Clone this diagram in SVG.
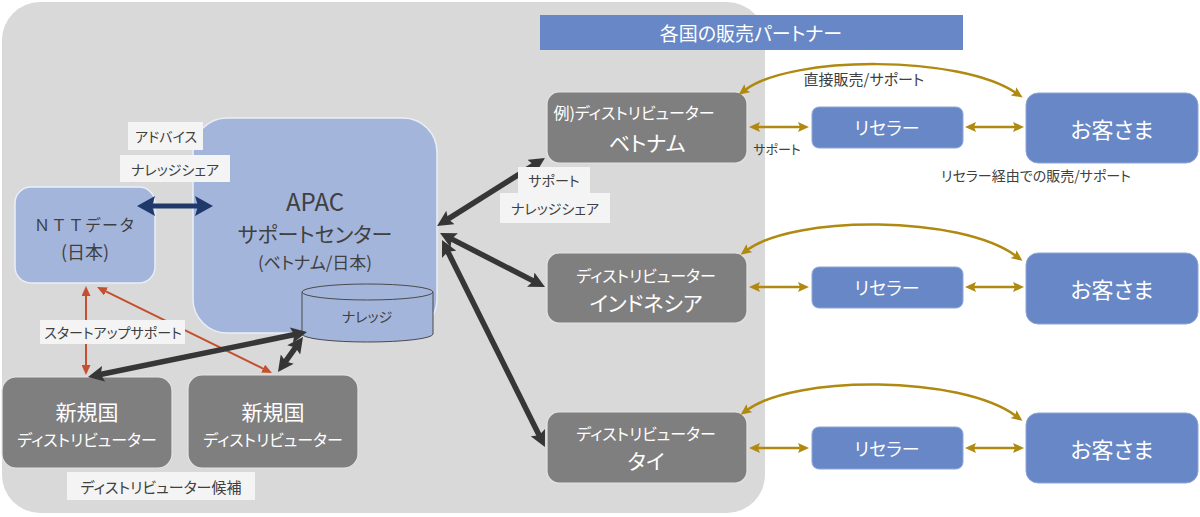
<svg xmlns="http://www.w3.org/2000/svg" width="1200" height="517" viewBox="0 0 1200 517">
<style>
text{font-family:"Noto Sans CJK JP","Liberation Sans",sans-serif;font-feature-settings:"palt";dominant-baseline:central;text-anchor:middle}
.dk{fill:#404040}
.wt{fill:#ffffff}
.lb{fill:#f4f4f4}
.lt{fill:#a4b5dc;stroke:#e9eef7;stroke-width:1.5}
.gr{fill:#7f7f7f;stroke:#e4e4e4;stroke-width:1.2}
.bl{fill:#6787c6;stroke:#8fa6d6;stroke-width:1}
.blk{stroke:#363636;stroke-width:5.5;fill:none;marker-start:url(#hb);marker-end:url(#hb)}
.nv{stroke:#1f3a6a;stroke-width:5;fill:none;marker-start:url(#hn);marker-end:url(#hn)}
.rd{stroke:#c4502f;stroke-width:2;fill:none;marker-start:url(#hr);marker-end:url(#hr)}
.gd{stroke:#b08a10;stroke-width:2.5;fill:none;marker-start:url(#hg);marker-end:url(#hg)}
</style>
<defs>
<marker id="hb" markerUnits="userSpaceOnUse" viewBox="0 0 16 16" markerWidth="16" markerHeight="16" refX="6" refY="8" orient="auto-start-reverse"><path d="M0,0 L16,8 L0,16 L3,8 z" fill="#363636"/></marker>
<marker id="hn" markerUnits="userSpaceOnUse" viewBox="0 0 18 20" markerWidth="18" markerHeight="20" refX="6" refY="10" orient="auto-start-reverse"><path d="M0,0 L18,10 L0,20 L3,10 z" fill="#1f3a6a"/></marker>
<marker id="hr" markerUnits="userSpaceOnUse" viewBox="0 0 10 9" markerWidth="10" markerHeight="9" refX="3" refY="4.5" orient="auto-start-reverse"><path d="M0,0 L10,4.5 L0,9 z" fill="#c4502f"/></marker>
<marker id="hg" markerUnits="userSpaceOnUse" viewBox="0 0 11 10" markerWidth="11" markerHeight="10" refX="3" refY="5" orient="auto-start-reverse"><path d="M0,0 L11,5 L0,10 L2,5 z" fill="#b08a10"/></marker>
</defs>
<rect width="1200" height="517" fill="#ffffff"/>
<rect id="region" x="2" y="2" width="763" height="511" rx="38" fill="#d9d9d9"/>
<g id="title"><rect x="540" y="15" width="423" height="35" fill="#6787c6"/><text x="751" y="32" class="wt" font-size="19">各国の販売パートナー</text></g>

<g id="ntt"><rect class="lt" x="15" y="187" width="140" height="96" rx="16"/><text x="85" y="224" class="dk" font-size="16" style="font-feature-settings:normal" letter-spacing="1">ＮＴＴデータ</text><text x="85" y="251" class="dk" font-size="18">(日本)</text></g>
<g id="apac"><rect class="lt" x="193" y="118" width="244" height="215" rx="34"/><text x="315" y="200" class="dk" font-size="24">APAC</text><text x="315" y="233" class="dk" font-size="21">サポートセンター</text><text x="315" y="261" class="dk" font-size="17">(ベトナム/日本)</text></g>
<g id="knowledge"><path d="M302,292 L302,334 A65.5,8 0 0 0 433,334 L433,292" fill="#a4b5dc" stroke="#4a4a4a" stroke-width="1"/><ellipse cx="367.5" cy="292" rx="65.5" ry="8" fill="#a4b5dc" stroke="#4a4a4a" stroke-width="1"/><text x="367" y="316" class="dk" font-size="14">ナレッジ</text></g>
<g id="new1"><rect class="gr" x="2" y="377" width="170" height="91" rx="14"/><text x="87" y="411" class="wt" font-size="21">新規国</text><text x="87" y="439" class="wt" font-size="16">ディストリビューター</text></g>
<g id="new2"><rect class="gr" x="188" y="375" width="170" height="93" rx="14"/><text x="273" y="411" class="wt" font-size="21">新規国</text><text x="273" y="439" class="wt" font-size="16">ディストリビューター</text></g>
<g id="vietnam"><rect class="gr" x="547" y="92" width="200" height="71" rx="12"/><text x="634" y="112" class="wt" font-size="16">例)ディストリビューター</text><text x="647" y="142" class="wt" font-size="21">ベトナム</text></g>
<g id="indonesia"><rect class="gr" x="547" y="253" width="200" height="70" rx="12"/><text x="646" y="275" class="wt" font-size="16">ディストリビューター</text><text x="646" y="302" class="wt" font-size="21">インドネシア</text></g>
<g id="thai"><rect class="gr" x="547" y="412" width="200" height="71" rx="12"/><text x="646" y="433" class="wt" font-size="16">ディストリビューター</text><text x="646" y="460" class="wt" font-size="21">タイ</text></g>
<g id="reseller1"><rect class="bl" x="812" y="107" width="151" height="41" rx="7"/><text x="887" y="127" class="wt" font-size="18">リセラー</text></g>
<g id="reseller2"><rect class="bl" x="812" y="267" width="151" height="41" rx="7"/><text x="887" y="287" class="wt" font-size="18">リセラー</text></g>
<g id="reseller3"><rect class="bl" x="812" y="427" width="151" height="42" rx="7"/><text x="887" y="448" class="wt" font-size="18">リセラー</text></g>
<g id="customer1"><rect class="bl" x="1026" y="93" width="172" height="70" rx="12"/><text x="1112" y="128" class="wt" font-size="22">お客さま</text></g>
<g id="customer2"><rect class="bl" x="1026" y="253" width="172" height="71" rx="12"/><text x="1112" y="288" class="wt" font-size="22">お客さま</text></g>
<g id="customer3"><rect class="bl" x="1026" y="413" width="172" height="70" rx="12"/><text x="1112" y="448" class="wt" font-size="22">お客さま</text></g>

<g id="connectors">
<line class="nv" x1="149" y1="206" x2="201" y2="206"/>
<line class="rd" x1="86" y1="293" x2="86" y2="368"/>
<line class="rd" x1="103.3" y1="290.1" x2="265.7" y2="369.9"/>
<line class="blk" x1="97.8" y1="375" x2="297.2" y2="334"/>
<line class="blk" x1="283.8" y1="363.9" x2="297.2" y2="345.1"/>
<line class="blk" x1="445.5" y1="220.7" x2="536.5" y2="163.3"/>
<line class="blk" x1="448.9" y1="237.6" x2="536.1" y2="282.4"/>
<line class="blk" x1="446.5" y1="249" x2="540.5" y2="438"/>
<line class="gd" x1="757" y1="127" x2="801" y2="127"/>
<line class="gd" x1="973" y1="127" x2="1016" y2="127"/>
<line class="gd" x1="757" y1="287" x2="801" y2="287"/>
<line class="gd" x1="973" y1="287" x2="1016" y2="287"/>
<line class="gd" x1="757" y1="448" x2="801" y2="448"/>
<line class="gd" x1="973" y1="448" x2="1016" y2="448"/>
<path class="gd" d="M745,90 C792,55 960,55 1016,93"/>
<path class="gd" d="M747,250 C795,215 960,215 1016,256"/>
<path class="gd" d="M747,410 C795,375 960,375 1016,416"/>
</g>

<g id="labels">
<rect class="lb" x="128" y="122" width="75" height="28"/><text x="166" y="136" class="dk" font-size="14">アドバイス</text>
<rect class="lb" x="120" y="155" width="110" height="27"/><text x="175" y="169" class="dk" font-size="14">ナレッジシェア</text>
<rect class="lb" x="40" y="320" width="145" height="24"/><text x="113" y="332" class="dk" font-size="14">スタートアップサポート</text>
<rect class="lb" x="67" y="472" width="188" height="28"/><text x="161" y="486" class="dk" font-size="15">ディストリビューター候補</text>
<rect class="lb" x="518" y="167" width="72" height="27"/><text x="554" y="180" class="dk" font-size="14">サポート</text>
<rect class="lb" x="500" y="193" width="110" height="30"/><text x="555" y="208" class="dk" font-size="14">ナレッジシェア</text>
<text x="864" y="78" class="dk" font-size="15">直接販売/サポート</text>
<text x="777" y="148" class="dk" font-size="13">サポート</text>
<text x="1036" y="175" class="dk" font-size="14">リセラー経由での販売/サポート</text>
</g>
</svg>
